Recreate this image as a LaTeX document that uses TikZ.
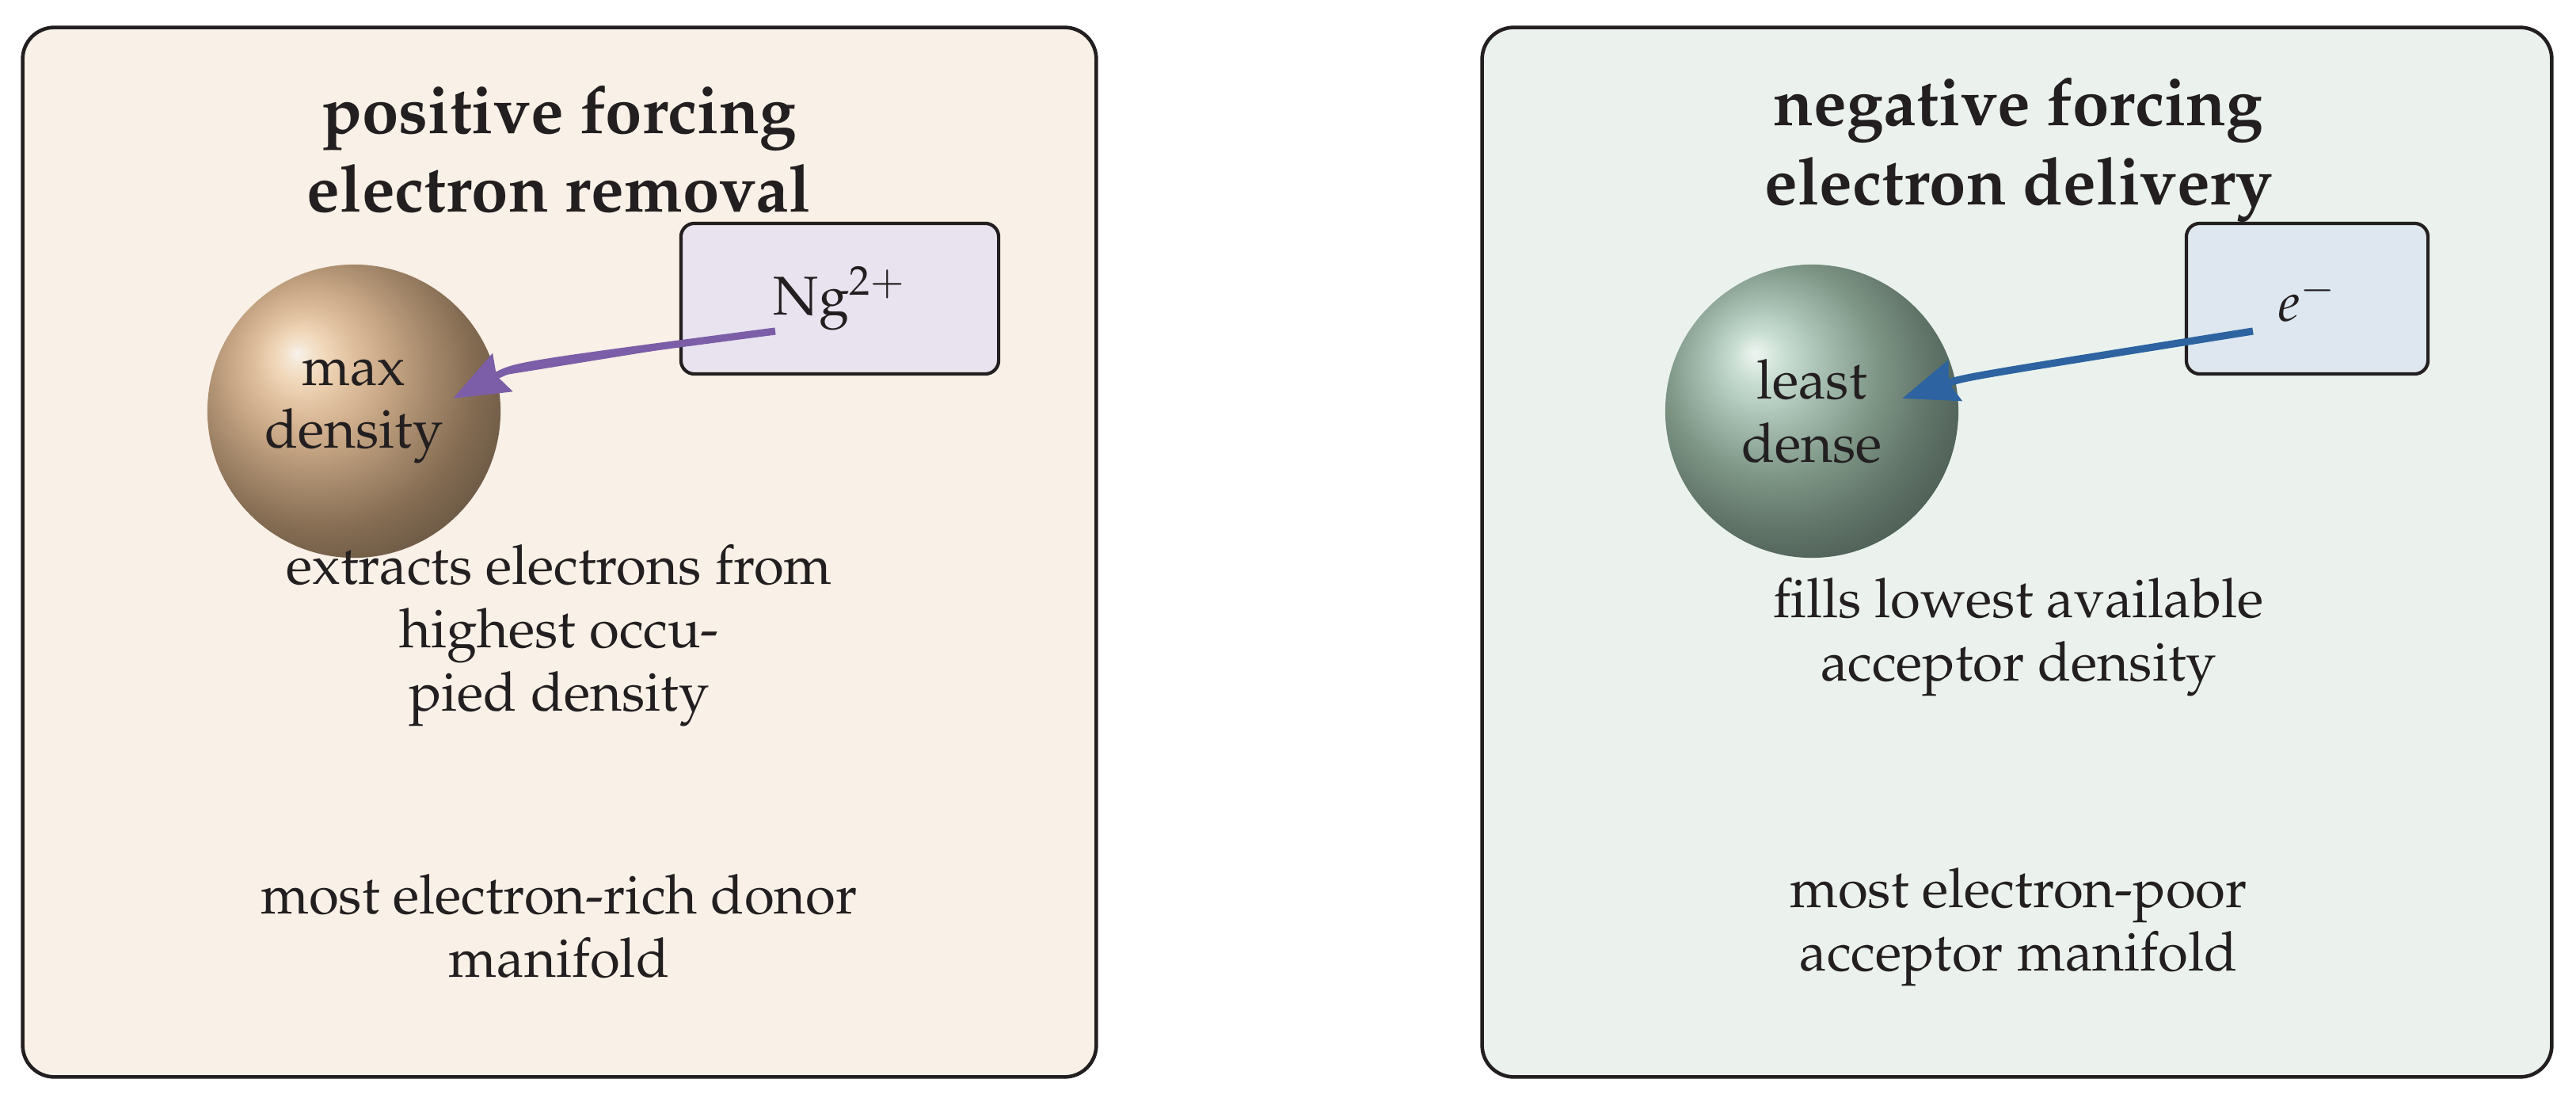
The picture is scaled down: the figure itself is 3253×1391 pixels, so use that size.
\documentclass[tikz,border=0pt]{standalone}
\usepackage[T1]{fontenc}
\usepackage{mathpazo}
\usetikzlibrary{arrows.meta,positioning}
\definecolor{ink}{HTML}{231F20}
\definecolor{panelL}{HTML}{F9F0E7}
\definecolor{panelR}{HTML}{EBF2EE}
\definecolor{boxL}{HTML}{E9E3F0}
\definecolor{boxR}{HTML}{DEE7F0}
\definecolor{arrL}{HTML}{7B5EA7}
\definecolor{arrR}{HTML}{2C63A0}
\definecolor{tA}{HTML}{F8F3EE}
\definecolor{tB}{HTML}{F4E4D0}
\definecolor{tC}{HTML}{F0D6B8}
\definecolor{tD}{HTML}{DCBC9A}
\definecolor{tE}{HTML}{C4A482}
\definecolor{tF}{HTML}{AE9072}
\definecolor{tG}{HTML}{846C52}
\definecolor{tH}{HTML}{5E4E3D}
\definecolor{tI}{HTML}{504233}
\definecolor{gA}{HTML}{EEF5F1}
\definecolor{gB}{HTML}{DDEBE3}
\definecolor{gC}{HTML}{C8DDD2}
\definecolor{gD}{HTML}{ADC5B8}
\definecolor{gE}{HTML}{93AB9C}
\definecolor{gF}{HTML}{7E9686}
\definecolor{gG}{HTML}{607468}
\definecolor{gH}{HTML}{45534B}
\definecolor{gI}{HTML}{3A4840}
\pgfdeclareradialshading{tanball}{\pgfpoint{-9.8bp}{9.9bp}}{color(0bp)=(tA); color(2bp)=(tB); color(4.5bp)=(tC); color(9bp)=(tD); color(14bp)=(tE); color(18bp)=(tF); color(26bp)=(tG); color(36bp)=(tH); color(45bp)=(tI); color(60bp)=(tI)}
\pgfdeclareradialshading{greenball}{\pgfpoint{-9.8bp}{9.9bp}}{color(0bp)=(gA); color(2bp)=(gB); color(4.5bp)=(gC); color(9bp)=(gD); color(14bp)=(gE); color(18bp)=(gF); color(26bp)=(gG); color(36bp)=(gH); color(45bp)=(gI); color(60bp)=(gI)}
\begin{document}
\begin{tikzpicture}[x=0.01cm,y=-0.01cm,
  panel/.style={draw=ink,line width=1.3pt,rounded corners=0.4cm,minimum height=13.24cm,inner sep=0pt},
  ionbox/.style={draw=ink,line width=1.2pt,rounded corners=0.17cm,minimum height=1.9cm,inner sep=0pt},
  sphere/.style={circle,minimum size=3.7cm,inner sep=0pt},
  title/.style={text=ink,align=center,font=\fontsize{23.7}{28.2}\selectfont\bfseries},
  body/.style={text=ink,align=center,font=\fontsize{19.6}{22.7}\selectfont},
  ion/.style={text=ink,font=\fontsize{19.6}{22.7}\selectfont},
  flow/.style={line width=2.6pt,-{Stealth[length=7mm,width=5.3mm,inset=0.8mm]}}
]
\useasboundingbox (0,0) rectangle (3253,1391);
% panels
\node[panel,fill=panelL,minimum width=13.55cm] (pL) at (706.5,697) {};
\node[panel,fill=panelR,minimum width=13.50cm] (pR) at (2547,697) {};
% titles
\node[title] (tL) at (706,188) {positive forcing\\electron removal};
\node[title] (tR) at (2549,189) {negative forcing\\electron delivery};
% ion boxes
\node[ionbox,fill=boxL,minimum width=4.01cm] (bL) at (1060.5,377) {};
\node[ionbox,fill=boxR,minimum width=3.05cm] (bR) at (2913.5,377) {};
\node[ion] (ionL) at (bL.center) {Ng$^{2+}$};
\node[ion] (ionR) at (bR.center) {$e^{-}$};
% spheres
\node[sphere,shading=tanball] (sL) at (447,519) {};
\node[sphere,shading=greenball] (sR) at (2288,519) {};
\node[body] (lL) at (sL.center) {max\\density};
\node[body] (lR) at (sR.center) {least\\dense};
% arrows
\coordinate (aL0) at (979,418);
\coordinate (aLc) at (652,461);
\coordinate (aL1) at (572,503);
\coordinate (aR0) at (2845,418);
\coordinate (aRc) at (2482,476);
\coordinate (aR1) at (2402,503);
\draw[flow,draw=arrL,fill=arrL] (aL0) .. controls (aLc) .. (aL1);
\draw[flow,draw=arrR,fill=arrR] (aR0) .. controls (aRc) .. (aR1);
% descriptions
\node[body] (dL1) at (706,802) {extracts electrons from\\highest occu-\\pied density};
\node[body] (dL2) at (706,1169) {most electron-rich donor\\manifold};
\node[body] (dR1) at (2549,804) {fills lowest available\\acceptor density};
\node[body] (dR2) at (2549,1170) {most electron-poor\\acceptor manifold};
\end{tikzpicture}
\end{document}
